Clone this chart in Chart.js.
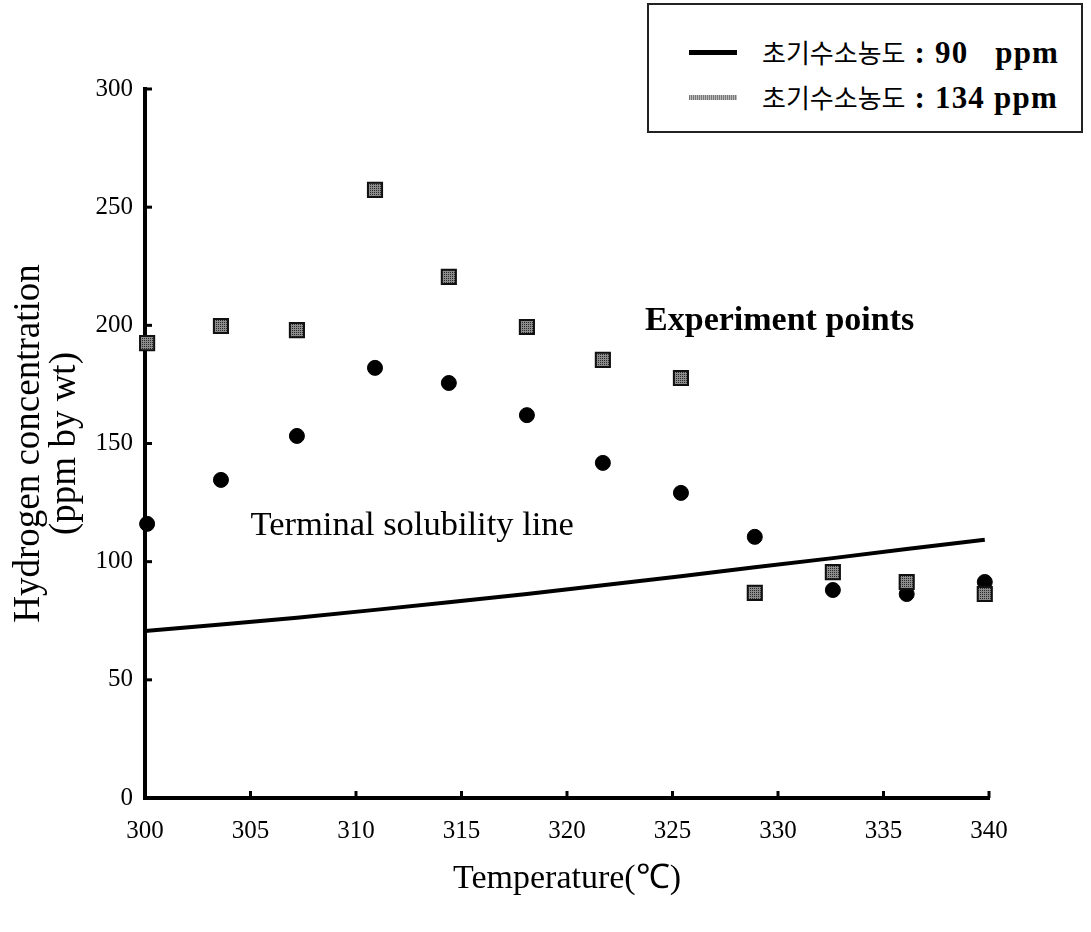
<!DOCTYPE html>
<html>
<head>
<meta charset="utf-8">
<title>Hydrogen concentration vs temperature</title>
<script src="https://cdn.jsdelivr.net/npm/chart.js"></script>
<style>
  html, body { margin: 0; padding: 0; background: #fff; }
  #wrap { position: relative; width: 1091px; height: 932px; }
  #legend {
    position: absolute; left: 647px; top: 3px; width: 432px; height: 126px;
    border: 2px solid #222; background: #fff;
  }
  .row { position: absolute; left: 0; width: 100%; height: 30px; }
  .swatch { position: absolute; left: 40px; width: 48px; }
  .txt { position: absolute; left: 113px; top: 0; line-height: 30px; white-space: pre; }
  .ko { font-family: "Noto Sans CJK KR", sans-serif; font-size: 26px; }
  .en { font-family: "Liberation Serif", serif; font-weight: bold; font-size: 31px; letter-spacing: 1.2px; }
</style>
</head>
<body>
<div id="wrap">
  <canvas id="chart" width="1091" height="932"></canvas>
  <div id="legend"></div>
</div>
<script>
// temperatures (°C)
const temps = [300.1, 303.6, 307.2, 310.9, 314.4, 318.1, 321.7, 325.4, 328.9, 332.6, 336.1, 339.8];
// experiment points, initial hydrogen 134 ppm (squares)
const h134 = [192.5, 199.7, 198, 257.3, 220.5, 199.3, 185.4, 177.7, 86.8, 95.6, 91.4, 86.3];
// experiment points, initial hydrogen 90 ppm (circles)
const h90 = [116, 134.6, 153.2, 182, 175.6, 162, 141.8, 129.1, 110.5, 88, 86.3, 91.4];
// terminal solubility line
const tslTemps = [300, 303.6, 307.2, 310.9, 314.4, 318.1, 321.7, 325.4, 328.9, 332.6, 336.1, 339.8];
const tslValues = [70.7, 73.4, 76.3, 79.6, 82.8, 86.3, 90, 93.8, 97.6, 101.5, 105.4, 109.3];

const legendLabels = ['초기수소농도', '초기수소농도'];
const legendValues = [' : 90   ppm', ' : 134 ppm'];

const xTicks = { min: 300, max: 340, step: 5 };
const yTicks = { min: 0, max: 300, step: 50 };

const notes = [
  { text: 'Experiment points', x: 323.7, y: 198, font: 'bold 34px "Liberation Serif"' },
  { text: 'Terminal solubility line', x: 305.0, y: 111.3, font: '34.5px "Liberation Serif"' }
];

function hatchPattern(light, dark) {
  const c = document.createElement('canvas');
  c.width = 4; c.height = 4;
  const g = c.getContext('2d');
  g.fillStyle = light; g.fillRect(0, 0, 4, 4);
  g.fillStyle = dark;
  g.fillRect(0, 0, 1, 1); g.fillRect(2, 2, 1, 1); g.fillRect(2, 0, 1, 1); g.fillRect(0, 2, 1, 1);
  return g.createPattern(c, 'repeat');
}

const toPts = (xs, ys) => xs.map((x, i) => ({ x: x, y: ys[i] }));

// inward tick marks + free text labels
const extras = {
  id: 'extras',
  afterDraw(chart) {
    const { ctx, scales: { x, y } } = chart;
    ctx.save();
    ctx.strokeStyle = '#000';
    ctx.lineWidth = 3;
    x.ticks.forEach(t => {
      if (t.value === xTicks.min) return;
      const px = x.getPixelForValue(t.value);
      ctx.beginPath(); ctx.moveTo(px, x.top); ctx.lineTo(px, x.top - 7); ctx.stroke();
    });
    y.ticks.forEach(t => {
      if (t.value === yTicks.min) return;
      const py = y.getPixelForValue(t.value);
      ctx.beginPath(); ctx.moveTo(y.right, py); ctx.lineTo(y.right + 7, py); ctx.stroke();
    });
    ctx.fillStyle = '#000';
    ctx.textBaseline = 'alphabetic';
    ctx.textAlign = 'left';
    notes.forEach(n => {
      ctx.font = n.font;
      ctx.fillText(n.text, x.getPixelForValue(n.x), y.getPixelForValue(n.y));
    });
    ctx.restore();
  }
};

const tickFont = { family: '"Liberation Serif", serif', size: 25 };

new Chart(document.getElementById('chart'), {
  type: 'scatter',
  data: {
    datasets: [
      {
        label: '134 ppm',
        data: toPts(temps, h134),
        pointStyle: 'rect',
        pointRadius: 10,
        pointBackgroundColor: hatchPattern('#8c8c8c', '#2a2a2a'),
        pointBorderColor: '#111',
        pointBorderWidth: 2,
        clip: false
      },
      {
        label: '90 ppm',
        data: toPts(temps, h90),
        pointStyle: 'circle',
        pointRadius: 7.5,
        pointBackgroundColor: '#000',
        pointBorderColor: '#000',
        pointBorderWidth: 1,
        clip: false
      },
      {
        label: 'Terminal solubility line',
        data: toPts(tslTemps, tslValues),
        showLine: true,
        borderColor: '#000',
        borderWidth: 4,
        pointRadius: 0,
        tension: 0
      }
    ]
  },
  options: {
    responsive: false,
    animation: false,
    layout: { padding: { top: 89, right: 102, left: 0, bottom: 0 } },
    plugins: { legend: { display: false }, tooltip: { enabled: false } },
    scales: {
      x: {
        type: 'linear',
        min: xTicks.min, max: xTicks.max,
        afterFit: s => { s.height = 134; },
        ticks: { stepSize: xTicks.step, color: '#000', font: tickFont, padding: 18, maxRotation: 0 },
        grid: { drawOnChartArea: false, drawTicks: false },
        border: { color: '#000', width: 4 },
        title: {
          display: true, text: 'Temperature(℃)', color: '#000',
          font: { family: '"Liberation Serif", serif', size: 34 },
          padding: { top: 0, bottom: 33 }
        }
      },
      y: {
        min: yTicks.min, max: yTicks.max,
        afterFit: s => { s.width = 145; },
        ticks: { stepSize: yTicks.step, color: '#000', font: tickFont, padding: 12 },
        grid: { drawOnChartArea: false, drawTicks: false },
        border: { color: '#000', width: 4 },
        title: {
          display: true, text: ['Hydrogen concentration', '(ppm by wt)'], color: '#000',
          font: { family: '"Liberation Serif", serif', size: 37, lineHeight: 0.97 },
          padding: { top: 11, bottom: 0 }
        }
      }
    }
  },
  plugins: [extras]
});

// legend box
const legend = document.getElementById('legend');
const swatchStyles = [
  'top: 13px; height: 5px; background: #000;',
  'top: 13px; height: 5px; background: repeating-linear-gradient(90deg, #777 0 1px, #bbb 1px 2px);'
];
const rowTops = [32, 77];
legendLabels.forEach((lab, i) => {
  const row = document.createElement('div');
  row.className = 'row';
  row.style.top = rowTops[i] + 'px';
  row.innerHTML = '<div class="swatch" style="' + swatchStyles[i] + '"></div>' +
    '<div class="txt"><span class="ko">' + lab + '</span><span class="en">' + legendValues[i] + '</span></div>';
  legend.appendChild(row);
});
</script>
</body>
</html>
